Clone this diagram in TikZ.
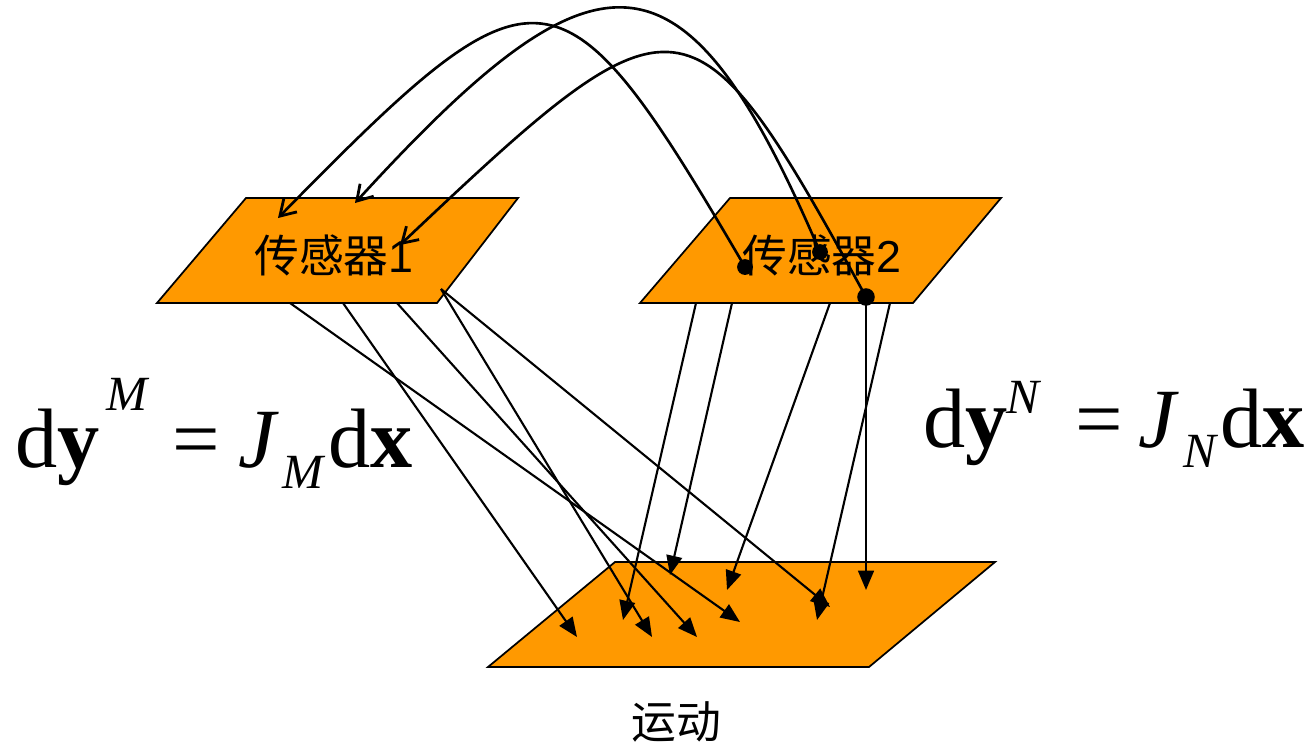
\documentclass[tikz,border=0pt]{standalone}
\usepackage{fontspec}
\usetikzlibrary{arrows.meta}
\newfontfamily\cjk{Noto Sans CJK SC}
\newfontfamily\arial{Liberation Sans}
\newfontfamily\tnr{Liberation Serif}
\definecolor{orng}{HTML}{FF9900}
\begin{document}
\begin{tikzpicture}[x=0.02cm,y=-0.02cm,
  plate/.style={fill=orng,draw=black,line width=1pt,line join=miter},
  arcline/.style={line width=1.5pt,-{Straight Barb[length=8.5pt,width=10.5pt,line width=1.6pt]}},
  ray/.style={line width=1.2pt,-{Triangle[length=11pt,width=9pt]}},
  dotnode/.style={circle,fill=black,inner sep=0pt,minimum size=9pt},
  lbl/.style={inner sep=0pt,font=\cjk\fontsize{25.5}{28}\selectfont},
  eqbig/.style={anchor=base west,inner sep=0pt,font=\tnr\fontsize{48}{50}\selectfont},
  eqsmall/.style={anchor=base west,inner sep=0pt,font=\tnr\itshape\fontsize{28}{30}\selectfont}]
\useasboundingbox (0,0) rectangle (1315,748);
% plates
\path[plate] (246,198) -- (518,198) -- (437,303) -- (157,303) -- cycle;
\path[plate] (730,198) -- (1001,198) -- (913,303) -- (640,303) -- cycle;
\path[plate] (615,562) -- (995,562) -- (869,667) -- (488,667) -- cycle;
% labels
\node[lbl] (s1) at (334,255) {传感器{\arial 1}};
\node[lbl] (s2) at (822,255) {传感器{\arial 2}};
\node[lbl] (m) at (676,722) {运动};
% dots on sensor 2
\node[dotnode] (d1) at (745,267) {};
\node[dotnode] (d2) at (820,252) {};
\node[dotnode,minimum size=10pt] (d3) at (866,297) {};
% arc targets on sensor 1
\coordinate (t1) at (278,218);
\coordinate (t2) at (355,203);
\coordinate (t3) at (400,245);
\draw[arcline] (d1.center) .. controls (560,-49) and (540,-49) .. (t1);
\draw[arcline] (d2.center) .. controls (684,-65) and (600,-65) .. (t2);
\draw[arcline] (d3.center) .. controls (692,-20) and (680,-20) .. (t3);
% sensor 1 ray starts
\coordinate (a1) at (290,303);
\coordinate (a2) at (343,303);
\coordinate (a3) at (397,303);
\coordinate (a4) at (441,289);
% sensor 2 ray starts
\coordinate (b1) at (696,303);
\coordinate (b2) at (732,303);
\coordinate (b3) at (830,303);
\coordinate (b5) at (890,303);
% ray ends on motion plate
\coordinate (e1) at (577,637);
\coordinate (e2) at (652,637);
\coordinate (e3) at (697,637);
\coordinate (e4) at (740,622);
\coordinate (e5) at (830,607);
\coordinate (f1) at (623,620);
\coordinate (f2) at (670,575);
\coordinate (f3) at (727,590);
\coordinate (f4) at (866,590);
\coordinate (f5) at (817,620);
\draw[ray] (a1) -- (e4);
\draw[ray] (a2) -- (e1);
\draw[ray] (a3) -- (e3);
\draw[ray] (a4) -- (e2);
\draw[ray] (a4) -- (e5);
\draw[ray] (b1) -- (f1);
\draw[ray] (b2) -- (f2);
\draw[ray] (b3) -- (f3);
\draw[ray] (d3.center) -- (f4);
\draw[ray] (b5) -- (f5);
% equations
\node[eqbig] (l1) at (15,467) {d\textbf{y}};
\node[eqsmall] (l2) at (106,410) {M};
\node[eqbig] (l3) at (172,467) {=};
\node[eqbig,font=\tnr\itshape\fontsize{48}{50}\selectfont] (l4) at (238,467) {J};
\node[eqsmall] (l5) at (282,488) {M};
\node[eqbig] (l6) at (328,467) {d\textbf{x}};
\node[eqbig] (r1) at (923,447) {d\textbf{y}};
\node[eqsmall] (r2) at (1006,413) {N};
\node[eqbig] (r3) at (1075,447) {=};
\node[eqbig,font=\tnr\itshape\fontsize{48}{50}\selectfont] (r4) at (1138,447) {J};
\node[eqsmall] (r5) at (1183,467) {N};
\node[eqbig] (r6) at (1220,447) {d\textbf{x}};
\end{tikzpicture}
\end{document}
